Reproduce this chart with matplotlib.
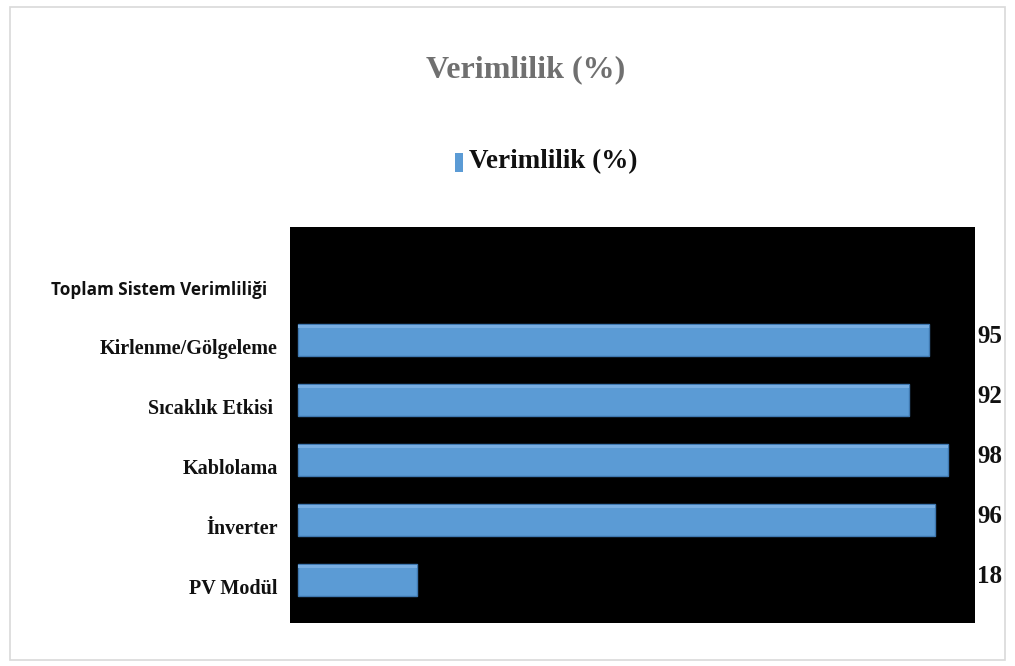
import matplotlib
matplotlib.use("Agg")
import matplotlib.pyplot as plt
from matplotlib.patches import Rectangle

categories = ["PV Modül", "İnverter", "Kablolama", "Sıcaklık Etkisi ", "Kirlenme/Gölgeleme", "Toplam Sistem Verimliliği"]
values = [18, 96, 98, 92, 95, None]
series_name = "Verimlilik (%)"
title = "Verimlilik (%)"

W, H = 1015, 666
fig = plt.figure(figsize=(W / 100, H / 100), dpi=100)
fig.patch.set_facecolor("white")

# outer border
fig.patches.append(Rectangle((10 / W, 6 / H), 995 / W, 653 / H, transform=fig.transFigure,
                             fill=False, edgecolor="#D9D9D9", linewidth=1.2))

# plot area: x 290..975, y 227..623 (pixels from top)
ax = fig.add_axes([290 / W, 1 - 623 / H, (975 - 290) / W, (623 - 227) / H])
ax.set_facecolor("black")
for s in ax.spines.values():
    s.set_visible(False)

ypos = list(range(len(categories)))
bar_color = "#5B9BD5"
for y, v in zip(ypos, values):
    if v is None:
        continue
    ax.barh(y, v, height=0.53, color=bar_color, edgecolor="#3F78B0", linewidth=1.0, zorder=3)
    ax.barh(y + 0.225, v, height=0.05, color="#78AEE2", zorder=4)

ax.set_xlim(-1.2, 102)
ax.set_ylim(-0.72, 5.88)
ax.set_xticks([])
ax.set_yticks([])

# category labels
for y, c in zip(ypos, categories):
    if c.startswith("Toplam"):
        ax.text(-0.034, y - 0.17, c, transform=ax.get_yaxis_transform(), ha="right", va="center",
                fontsize=12.3, fontweight="bold", family="Open Sans", color="#111111")
    else:
        ax.text(-0.018, y - 0.15, c, transform=ax.get_yaxis_transform(), ha="right", va="center",
                fontsize=14.5, fontweight="bold", family="Liberation Serif", color="#111111")

# value labels outside the plot area
for y, v in zip(ypos, values):
    if v is None:
        continue
    ax.text(1.003, y + 0.05, f"{v}", transform=ax.get_yaxis_transform(), ha="left", va="center",
            fontsize=18, fontweight="bold", family="Liberation Serif", color="#111111")

# title
fig.text(526 / W, 1 - 70 / H, title, ha="center", va="center", fontsize=23,
         fontweight="bold", family="Liberation Serif", color="#707070")

# legend
fig.patches.append(Rectangle((455 / W, 1 - 172 / H), 8 / W, 19 / H, transform=fig.transFigure,
                             facecolor=bar_color, edgecolor="none"))
fig.text(469 / W, 1 - 162 / H, series_name, ha="left", va="center", fontsize=19.5,
         fontweight="bold", family="Liberation Serif", color="#111111")

fig.savefig("out.png", dpi=100, facecolor="white")
